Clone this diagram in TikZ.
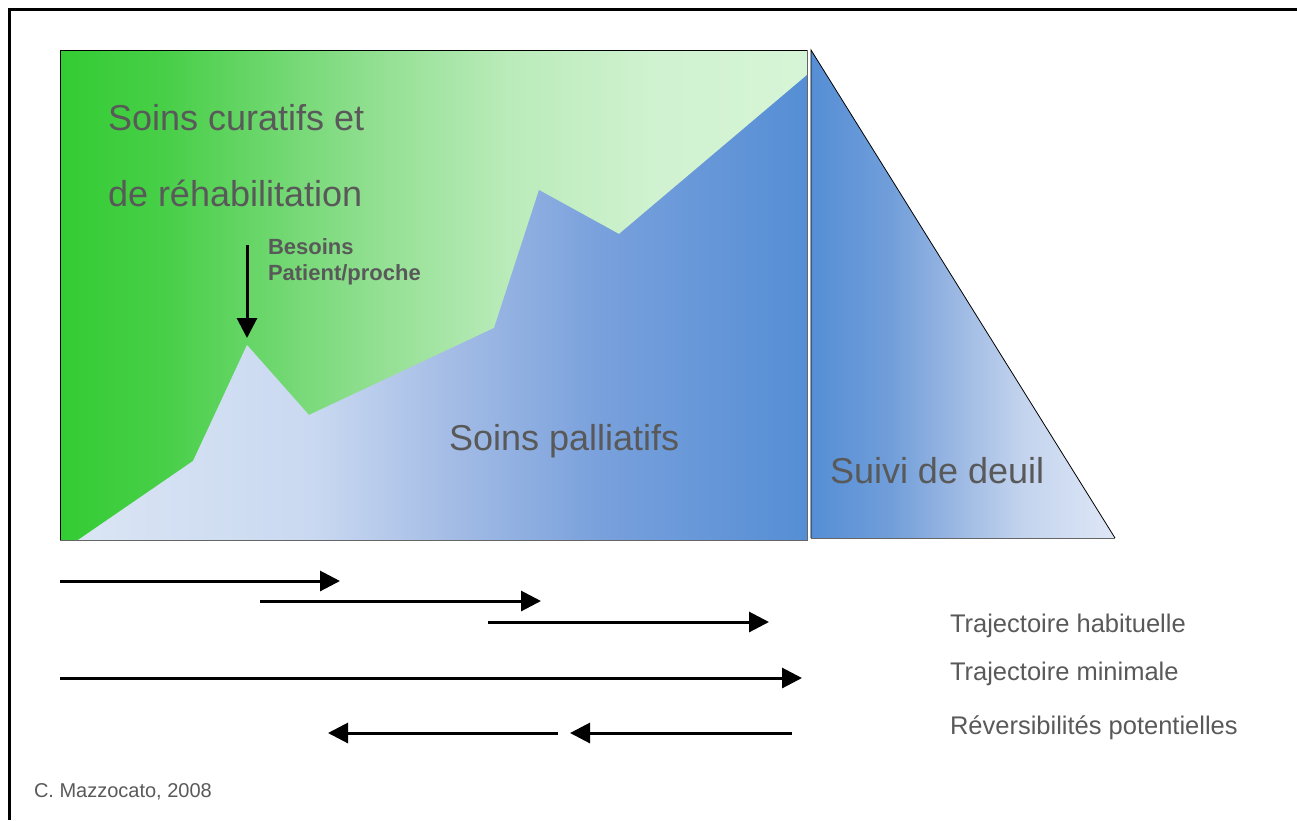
\documentclass[tikz,border=0pt]{standalone}
\usepackage{fontspec}
\setmainfont{Liberation Sans}
\usetikzlibrary{arrows.meta}
\definecolor{txtgrey}{RGB}{89,89,89}
\definecolor{vert0}{RGB}{51,204,51}
\definecolor{vert1}{RGB}{72,207,72}
\definecolor{vert2}{RGB}{140,222,140}
\definecolor{vert3}{RGB}{186,235,186}
\definecolor{vert4}{RGB}{208,242,208}
\definecolor{vert5}{RGB}{214,245,214}
\definecolor{bleu0}{RGB}{218,229,244}
\definecolor{bleu1}{RGB}{202,217,241}
\definecolor{bleu2}{RGB}{162,187,229}
\definecolor{bleu3}{RGB}{120,160,220}
\definecolor{bleu4}{RGB}{85,142,213}
\definecolor{deuil1}{RGB}{112,158,218}
\definecolor{deuil2}{RGB}{152,182,226}
\definecolor{deuil3}{RGB}{196,212,238}
\definecolor{deuil4}{RGB}{222,231,246}
% 25bp = bord gauche, 75bp = bord droit
\pgfdeclarehorizontalshading{curatif}{100bp}{color(0bp)=(vert0); color(25bp)=(vert0);
  color(32bp)=(vert1); color(45bp)=(vert2); color(55bp)=(vert3);
  color(65bp)=(vert4); color(75bp)=(vert5); color(100bp)=(vert5)}
\pgfdeclarehorizontalshading{palliatif}{100bp}{color(0bp)=(bleu0); color(25bp)=(bleu0);
  color(41bp)=(bleu1); color(51bp)=(bleu2); color(61bp)=(bleu3);
  color(75bp)=(bleu4); color(100bp)=(bleu4)}
\pgfdeclarehorizontalshading{deuil}{100bp}{color(0bp)=(bleu4); color(25bp)=(bleu4);
  color(38bp)=(deuil1); color(48bp)=(deuil2); color(60bp)=(deuil3);
  color(75bp)=(deuil4); color(100bp)=(deuil4)}

\begin{document}
\begin{tikzpicture}[x=1pt,y=-1pt,
  every node/.style={inner sep=0pt,outer sep=0pt,anchor=base west,text=txtgrey},
  bigtxt/.style={font=\fontsize{36}{40}\selectfont},
  legtxt/.style={font=\fontsize{25.5}{28}\selectfont},
  besoin/.style={font=\bfseries\fontsize{22}{26}\selectfont},
  fleche/.style={line width=3pt,-{Triangle[length=20pt,width=20pt]}}]
\useasboundingbox (0,0) rectangle (1297,820);
% cadre
\draw[line width=3pt] (1297,9) -- (9,9) -- (9,820);
% zones
\path[shading=curatif] (60,50) rectangle (807,540);
\path[shading=palliatif] (78,540) -- (193,461) -- (247,345) -- (309,415)
  -- (494,328) -- (539,190) -- (619,234) -- (807,75) -- (807,540) -- cycle;
\draw[line width=0.8pt] (60,540) -- (60,50) -- (807,50);
\draw[line width=1pt,black!60] (807,50) -- (807,540) -- (60,540);
\path[shading=deuil] (811,50) -- (1115,538) -- (811,538) -- cycle;
\draw[line width=0.8pt] (811,538) -- (811,50) -- (1115,538);
\draw[line width=1pt,black!60] (811,538) -- (1115,538);
% textes
\node[bigtxt] (cur1) at (108,130) {Soins curatifs et};
\node[bigtxt] (cur2) at (108,206) {de réhabilitation};
\node[bigtxt] (pal) at (449,450) {Soins palliatifs};
\node[bigtxt] (deuil) at (830,483) {Suivi de deuil};
\node[besoin] (bes1) at (268,254) {Besoins};
\node[besoin] (bes2) at (268,280) {Patient/proche};
\coordinate (b0) at (247,245);
\coordinate (b1) at (247,338);
\draw[fleche] (b0) -- (b1);
% trajectoires
\coordinate (h1a) at (60,581);  \coordinate (h1b) at (340,581);
\coordinate (h2a) at (260,601); \coordinate (h2b) at (541,601);
\coordinate (h3a) at (488,622); \coordinate (h3b) at (769,622);
\coordinate (m1a) at (60,678);  \coordinate (m1b) at (802,678);
\coordinate (r1a) at (558,733); \coordinate (r1b) at (328,733);
\coordinate (r2a) at (792,733); \coordinate (r2b) at (570,733);
\draw[fleche] (h1a) -- (h1b);
\draw[fleche] (h2a) -- (h2b);
\draw[fleche] (h3a) -- (h3b);
\draw[fleche] (m1a) -- (m1b);
\draw[fleche] (r1a) -- (r1b);
\draw[fleche] (r2a) -- (r2b);
\node[legtxt] (leg1) at (950,632) {Trajectoire habituelle};
\node[legtxt] (leg2) at (950,680) {Trajectoire minimale};
\node[legtxt] (leg3) at (950,734) {Réversibilités potentielles};
\node[font=\fontsize{20}{24}\selectfont] (src) at (34,797) {C. Mazzocato, 2008};
\end{tikzpicture}
\end{document}
